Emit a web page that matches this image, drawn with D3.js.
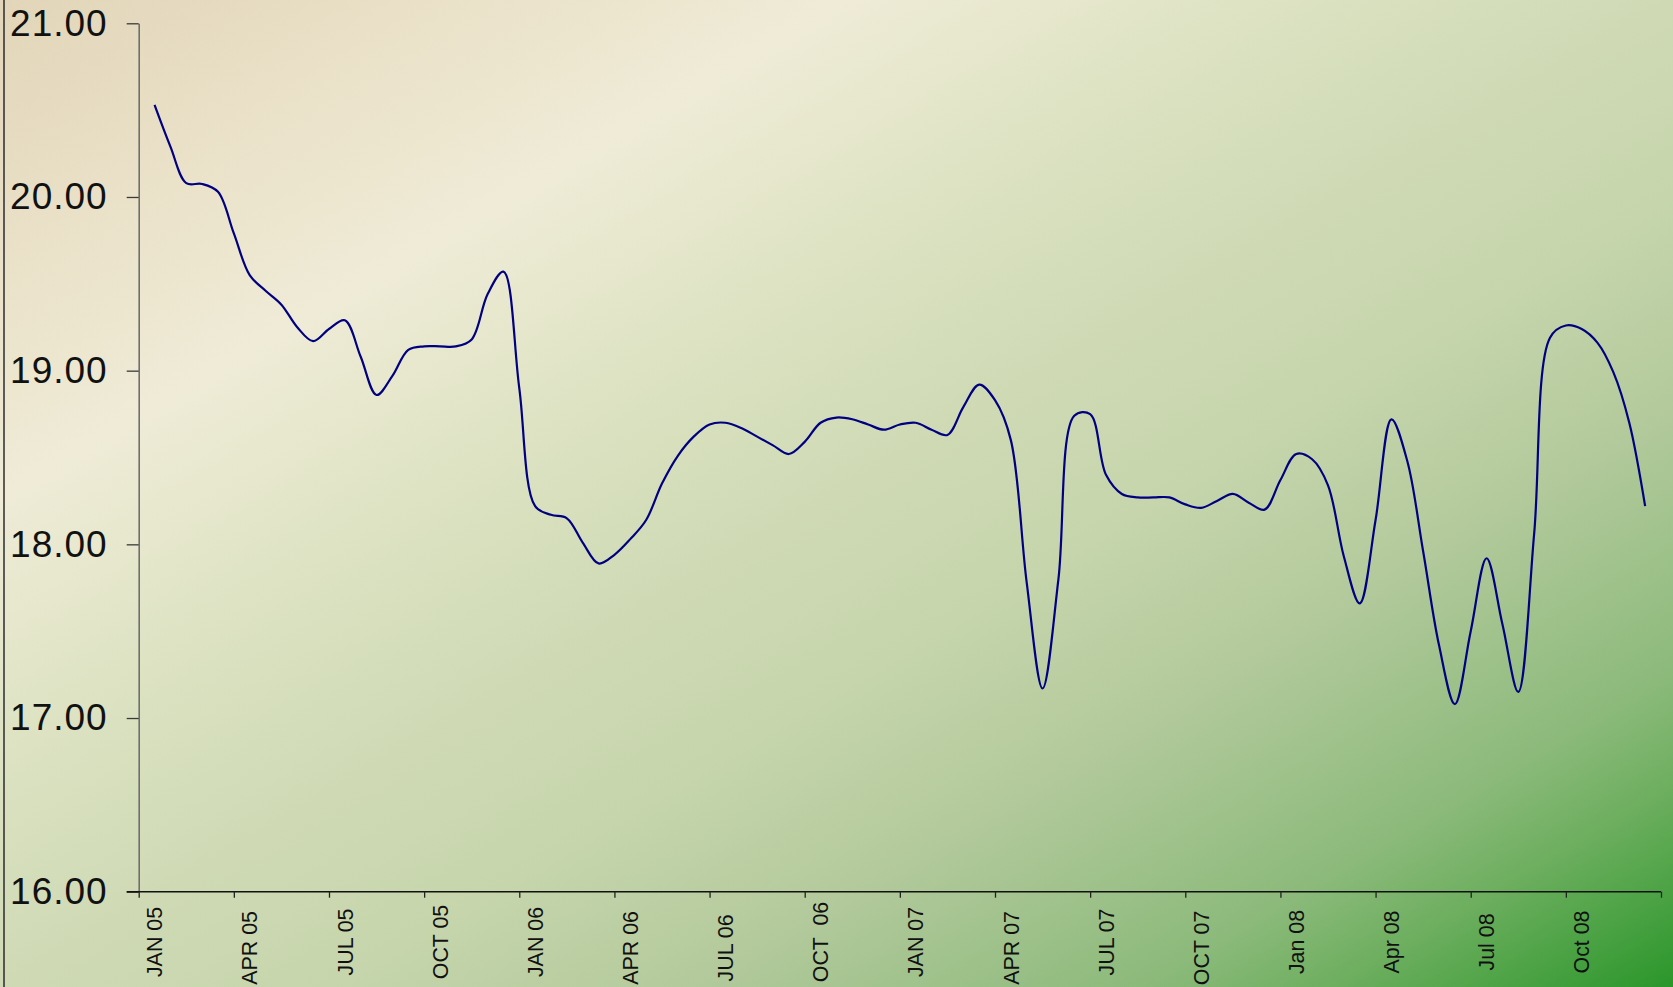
<!DOCTYPE html>
<html>
<head>
<meta charset="utf-8">
<script src="https://cdn.jsdelivr.net/npm/d3@7"></script>
<style>
  body { margin: 0; overflow: hidden; }
  svg { display: block; font-family: "Liberation Sans", Arial, sans-serif; }
</style>
</head>
<body>
<svg id="chart"></svg>
<script>
////////////////// DATA  (one reading every half month, first one = middle of JAN 05)
const values2005 = [20.53, 20.29, 20.08, 20.075, 20.03, 19.79, 19.55, 19.46, 19.38, 19.25, 19.17, 19.24,
  19.29, 19.08, 18.86, 18.97, 19.12, 19.14, 19.14, 19.14, 19.18, 19.44, 19.57];
const values2006 = [18.90, 18.22, 18.17, 18.15, 18.01, 17.89, 17.94, 18.03, 18.14, 18.35, 18.51, 18.62,
  18.69, 18.70, 18.67, 18.62, 18.57, 18.52, 18.59, 18.70, 18.73, 18.72, 18.69, 18.66];
const values2007 = [18.69, 18.70, 18.66, 18.63, 18.79, 18.92, 18.83, 18.60, 17.78, 17.17, 17.80, 18.74,
  18.75, 18.40, 18.29, 18.27, 18.27, 18.27, 18.23, 18.21, 18.25, 18.29, 18.24, 18.20];
const values2008 = [18.37, 18.52, 18.49, 18.34, 17.93, 17.66, 18.14, 18.72, 18.48, 17.96, 17.42, 17.08,
  17.50, 17.92, 17.54, 17.15, 18.06, 19.19, 19.26, 19.24, 19.16, 18.99, 18.70, 18.22];

// some labels in the source sheet carry trailing blanks
const quarterLabels = ["JAN 05", "APR 05  ", "JUL 05", "OCT 05", "JAN 06", "APR 06  ", "JUL 06  ", "OCT  06",
  "JAN 07", "APR 07  ", "JUL 07", "OCT 07  ", "Jan 08", "Apr 08", "Jul 08", "Oct 08"];
const yTicks = [16, 17, 18, 19, 20, 21];
const monthCount = 48;

//////////////////////////////////////////////////
const width = 1673, height = 987;
const svg = d3.select('#chart')
  .attr('width', width)
  .attr('height', height);

const series = [].concat(values2005, values2006, values2007, values2008)
  .map((v, i) => ({ month: 0.5 + i * 0.5, value: v }));

const x = d3.scaleLinear().domain([0, monthCount]).range([138.7, 1661]);
const y = d3.scaleLinear().domain([16, 21]).range([891.7, 23.3]);

// background: diagonal fill, tan top-left -> cream -> green bottom-right
const defs = svg.append('defs');
const grad = defs.append('linearGradient')
  .attr('id', 'bg')
  .attr('x1', 0).attr('y1', 0)
  .attr('x2', 1).attr('y2', 1);
[[0, '#e2d5b9'], [0.18, '#ece5cd'], [0.25, '#efebd7'], [0.32, '#e6e7cc'], [0.40, '#dae1c0'],
 [0.50, '#cfdab5'], [0.60, '#c6d5ac'], [0.71, '#b2c99b'], [0.84, '#8cba7b'], [0.90, '#6cae5e'],
 [0.96, '#45a03f'], [1, '#2a962a']]
  .forEach(s => grad.append('stop').attr('offset', s[0]).attr('stop-color', s[1]));

svg.append('rect')
  .attr('width', width)
  .attr('height', height)
  .attr('fill', 'url(#bg)');

// left frame edge
svg.append('line')
  .attr('x1', 4).attr('x2', 4)
  .attr('y1', 0).attr('y2', height)
  .attr('stroke', '#2b2b2b')
  .attr('stroke-width', 1.5);

////////////////// Y AXIS
const yAxisG = svg.append('g')
  .attr('transform', `translate(${x(0)},0)`)
  .call(d3.axisLeft(y)
    .tickValues(yTicks)
    .tickSize(12)
    .tickSizeOuter(0)
    .tickPadding(19)
    .tickFormat(d3.format('.2f')));
yAxisG.select('.domain').attr('stroke', '#6e6e6e').attr('stroke-width', 1.6);
yAxisG.selectAll('.tick line').attr('stroke', '#3a3a3a').attr('stroke-width', 1.3);
yAxisG.selectAll('.tick text')
  .attr('fill', '#111')
  .style('font-size', '37px')
  .style('letter-spacing', '1px')
  .style('font-family', '"Liberation Sans", Arial, sans-serif');

////////////////// X AXIS
const xAxisG = svg.append('g')
  .attr('transform', `translate(0,${y(16)})`)
  .call(d3.axisBottom(x)
    .tickValues(d3.range(0, monthCount + 1, 3))
    .tickSize(6)
    .tickSizeOuter(0)
    .tickFormat(''));
xAxisG.select('.domain')
  .attr('d', `M${x(0) - 12},0H${x(monthCount)}`)
  .attr('stroke', '#111')
  .attr('stroke-width', 1.6);
xAxisG.selectAll('.tick line').attr('stroke', '#222').attr('stroke-width', 1.3);

// labels sit in the middle of the first month of each quarter, centred under the axis
svg.append('g')
  .selectAll('text')
  .data(quarterLabels)
  .enter().append('text')
    .attr('transform', (d, i) => `translate(${x(i * 3 + 0.5)},942) rotate(-90)`)
    .attr('dy', '0.36em')
    .attr('text-anchor', 'middle')
    .attr('xml:space', 'preserve')
    .style('font-size', '21.4px')
    .style('white-space', 'pre')
    .attr('fill', '#111')
    .text(d => d);

////////////////// LINE
const line = d3.line()
  .x(d => x(d.month))
  .y(d => y(d.value))
  .curve(d3.curveCatmullRom.alpha(0.5));

svg.append('path')
  .datum(series)
  .attr('d', line)
  .attr('fill', 'none')
  .attr('stroke', '#000080')
  .attr('stroke-width', 2.2)
  .attr('stroke-linejoin', 'round');
</script>
</body>
</html>
